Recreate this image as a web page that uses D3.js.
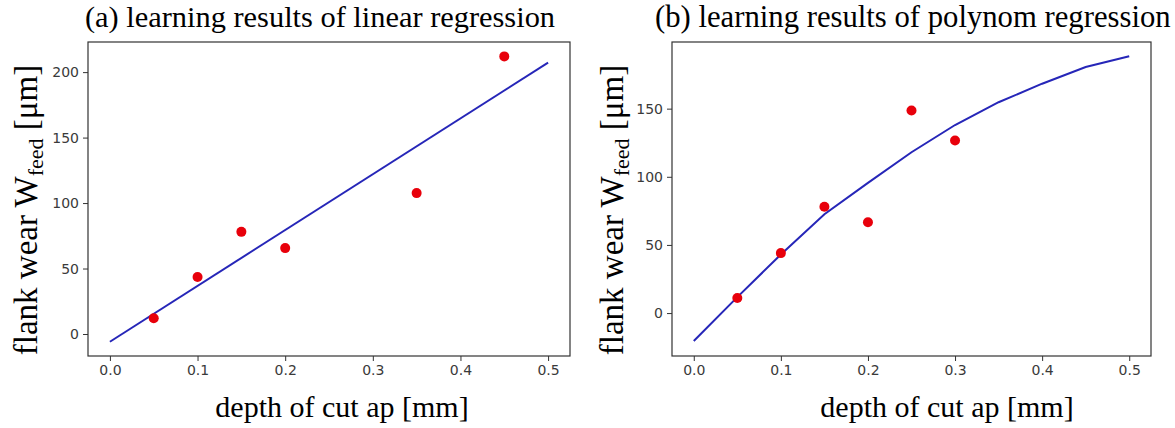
<!DOCTYPE html>
<html>
<head>
<meta charset="utf-8">
<script src="https://cdn.jsdelivr.net/npm/d3@7"></script>
<style>
  body { margin: 0; background: #fff; }
  .tick text { font-family: "DejaVu Sans", sans-serif; fill: #3a3a3a; }
</style>
</head>
<body>
<div id="chart"></div>
<script>
// data
const xTicks = [0, 0.1, 0.2, 0.3, 0.4, 0.5];
const linYTicks = [0, 50, 100, 150, 200];
const polyYTicks = [0, 50, 100, 150];

// (a) linear regression
const linPtsX = [0.05, 0.1, 0.15, 0.2, 0.35, 0.45];
const linPtsY = [12, 43.5, 78, 65.6, 107.6, 212];
const linFitX = [0, 0.5];
const linFitY = [-5.9, 207.3];

// (b) polynom regression
const polyPtsX = [0.05, 0.1, 0.15, 0.2, 0.25, 0.3];
const polyPtsY = [11, 44, 78, 66.6, 148.6, 126.6];
const polyFitX = [0, 0.05, 0.1, 0.15, 0.2, 0.25, 0.3, 0.35, 0.4, 0.45, 0.5];
const polyFitY = [-20.5, 11.7, 43, 72.5, 95.5, 118, 138, 154.7, 168.3, 180.5, 188.4];

const svg = d3.select("#chart")
  .append("svg")
    .attr("width", 1175)
    .attr("height", 428);

function panel(opt) {
  const x = d3.scaleLinear().domain([-0.025, 0.525]).range([opt.left, opt.right]);
  const y = d3.scaleLinear().domain(opt.yDomain).range([356, 42]);

  const g = svg.append("g");

  g.append("g")
    .attr("transform", "translate(0,356)")
    .call(d3.axisBottom(x).tickValues(xTicks).tickFormat(d3.format(".1f")).tickSize(5).tickPadding(4))
    .call(a => a.select(".domain").remove())
    .call(a => a.selectAll("line").attr("stroke", "#333"))
    .selectAll("text").style("font-size", "14px");

  g.append("g")
    .attr("transform", `translate(${opt.left},0)`)
    .call(d3.axisLeft(y).tickValues(opt.yTicks).tickSize(5).tickPadding(4))
    .call(a => a.select(".domain").remove())
    .call(a => a.selectAll("line").attr("stroke", "#333"))
    .selectAll("text").style("font-size", "14px");

  // frame
  g.append("rect")
    .attr("x", opt.left)
    .attr("y", 42)
    .attr("width", opt.right - opt.left)
    .attr("height", 314)
    .attr("fill", "none")
    .attr("stroke", "#333")
    .attr("stroke-width", 1.2);

  const fit = opt.fitX.map((v, i) => [v, opt.fitY[i]]);
  g.append("path")
    .datum(fit)
    .attr("fill", "none")
    .attr("stroke", "#2626b8")
    .attr("stroke-width", 2)
    .attr("d", d3.line()
      .x(function(d) { return x(d[0]) })
      .y(function(d) { return y(d[1]) }));

  g.selectAll("myCircles")
    .data(opt.ptsX.map((v, i) => [v, opt.ptsY[i]]))
    .enter()
    .append("circle")
      .attr("fill", "#e8000b")
      .attr("cx", function(d) { return x(d[0]) })
      .attr("cy", function(d) { return y(d[1]) })
      .attr("r", 5);

  // title
  g.append("text")
    .attr("x", opt.titleX)
    .attr("y", 27)
    .style("font-family", "'Liberation Serif', serif")
    .style("font-size", opt.titleSize)
    .text(opt.title);

  // x label
  g.append("text")
    .attr("x", opt.xLabelX)
    .attr("y", 417)
    .style("text-anchor", "middle")
    .style("font-family", "'Liberation Serif', serif")
    .style("font-size", "30px")
    .text("depth of cut ap [mm]");

  // y label
  const yl = g.append("text")
    .attr("transform", `translate(${opt.yLabelX},210) rotate(-90)`)
    .style("text-anchor", "middle")
    .style("font-family", "'Liberation Serif', serif")
    .style("font-size", "33px");
  yl.append("tspan").text("flank wear W");
  yl.append("tspan").attr("dy", 6).style("font-size", "22px").text("feed");
  yl.append("tspan").attr("dy", -6).text(" [μm]");
}

panel({
  left: 88, right: 570,
  yDomain: [-16.8, 223], yTicks: linYTicks,
  ptsX: linPtsX, ptsY: linPtsY, fitX: linFitX, fitY: linFitY,
  title: "(a) learning results of linear regression", titleX: 85, titleSize: "30.4px",
  xLabelX: 342, yLabelX: 37
});

panel({
  left: 672, right: 1151,
  yDomain: [-31.5, 198.9], yTicks: polyYTicks,
  ptsX: polyPtsX, ptsY: polyPtsY, fitX: polyFitX, fitY: polyFitY,
  title: "(b) learning results of polynom regression", titleX: 655, titleSize: "30.7px",
  xLabelX: 947, yLabelX: 623
});
</script>
</body>
</html>
